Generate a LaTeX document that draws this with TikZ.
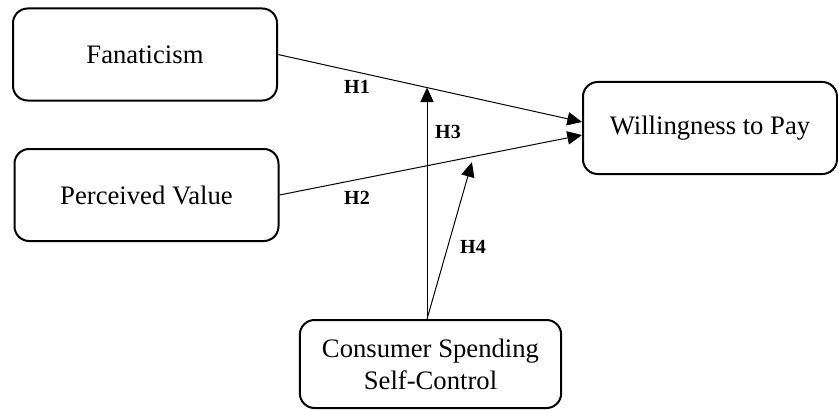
\documentclass[tikz,border=0pt]{standalone}
\usepackage{fontspec}
\setmainfont{Liberation Serif}
\usetikzlibrary{arrows.meta,positioning}

\begin{document}
\begin{tikzpicture}[
  x=0.75pt, y=-0.75pt,
  block/.style={
    draw, line width=1.5pt, rounded corners=11pt, align=center,
    minimum width=198pt, minimum height=69pt, font=\fontsize{20}{24}\selectfont
  },
  arrow/.style={-{Triangle[length=11pt,width=10pt]}, line width=0.75pt},
  hyp/.style={font=\fontsize{15}{17}\selectfont\bfseries}
]
\useasboundingbox (0,0) rectangle (838,410);

\node[block] (fan) at (145,54.5) {Fanaticism};
\node[block] (pv) at (146.5,195) {Perceived Value};
\node[block, minimum width=190.5pt] (wtp) at (710,128) {Willingness to Pay};
\node[block, minimum width=196pt, minimum height=66pt] (cons) at (430.5,364) {Consumer Spending\\Self-Control};

% direct effects
\draw[arrow] (fan.east) -- coordinate[pos=0.49] (h3end) ([yshift=4.5pt]wtp.west);
\draw[arrow] (pv.east) -- coordinate[pos=0.636] (h4mid) ([yshift=-5.25pt]wtp.west);

% moderation
\coordinate (src) at ([xshift=-2.6pt]cons.north);
\coordinate (h4end) at ([yshift=-4pt]h4mid);
\draw[arrow] (src) -- (src |- h3end);
\draw[arrow] (src) -- (h4end);

\node[hyp] (h1) at (357,87) {H1};
\node[hyp] (h2) at (357,198) {H2};
\node[hyp] (h3) at (448,132) {H3};
\node[hyp] (h4) at (473,247) {H4};
\end{tikzpicture}
\end{document}
